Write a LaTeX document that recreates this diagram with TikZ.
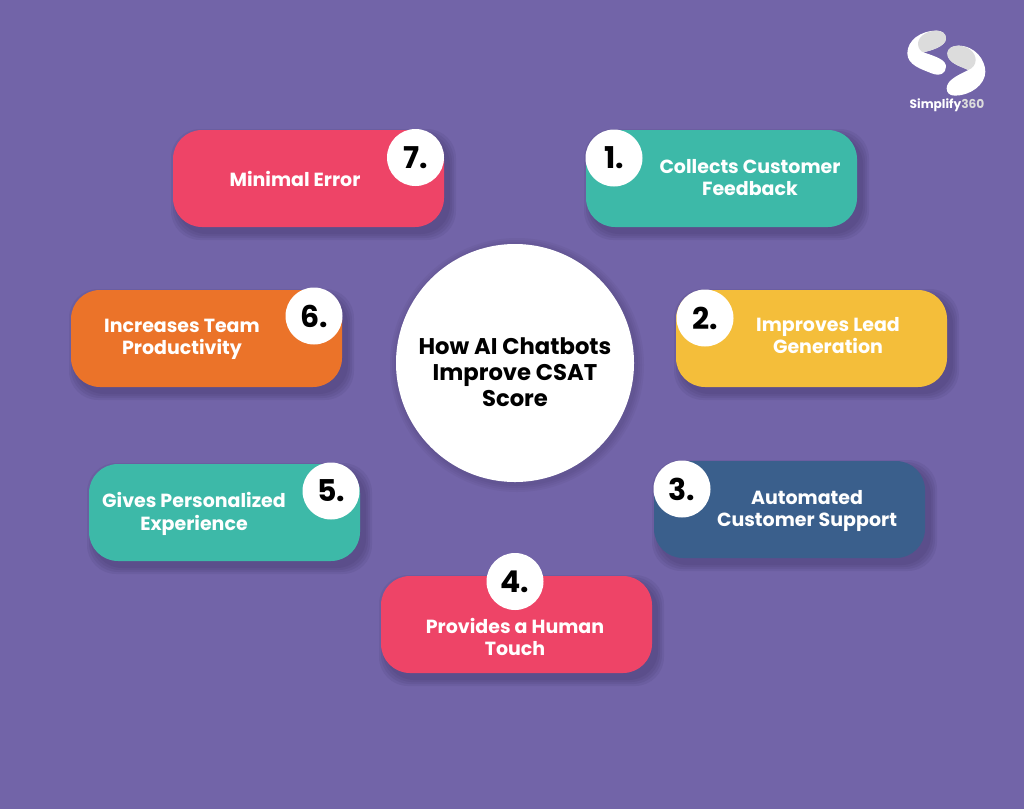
\documentclass[tikz,border=0pt]{standalone}
\usepackage{fontspec}
\setmainfont{Poppins}
\usetikzlibrary{calc}
\definecolor{bgpurple}{HTML}{7264A8}
\definecolor{cardpink}{HTML}{EE4467}
\definecolor{cardteal}{HTML}{3DB9A8}
\definecolor{cardyellow}{HTML}{F4BE3A}
\definecolor{cardblue}{HTML}{3A5F8C}
\definecolor{cardorange}{HTML}{EB7329}
\definecolor{shadowc}{HTML}{2E2650}
\definecolor{logogray}{HTML}{DCDCDC}
\tikzset{
  card/.style={rounded corners=29pt,minimum width=271pt,minimum height=97pt,inner sep=0pt,outer sep=0pt},
  cardlabel/.style={text=white,align=center,inner sep=0pt,font=\bfseries\fontsize{19}{22.5}\selectfont},
  badge/.style={circle,fill=white,minimum size=57pt,inner sep=0pt,text=black,font=\bfseries\fontsize{30}{30}\selectfont},
  hub/.style={circle,fill=white,minimum size=238pt,inner sep=0pt},
  hubtext/.style={align=center,inner sep=0pt,text=black,font=\bfseries\fontsize{22.7}{26}\selectfont},
}
\newcommand{\softcard}[2]{%
  \foreach \g in {7,5,3,1}{
    \fill[shadowc,opacity=0.09,rounded corners=29pt]
      (#1-135.5+5-\g,#2-48.5+6-\g) rectangle (#1+135.5+5+\g,#2+48.5+6+\g);
  }}
\begin{document}
\begin{tikzpicture}[x=1pt,y=-1pt]
\useasboundingbox (0,0) rectangle (1024,809);
\fill[bgpurple] (0,0) rectangle (1024,809);
% shadows
\softcard{308.5}{178.5}
\softcard{721.5}{178.5}
\softcard{811.5}{338.5}
\softcard{789.5}{509.5}
\softcard{516.5}{624.5}
\softcard{224.5}{512.5}
\softcard{206.5}{338.5}
\foreach \g in {8,6,4,2}{
  \fill[shadowc,opacity=0.06] (517,365) circle ({119+\g});
}
% cards
\node[card,fill=cardpink]   (card7) at (308.5,178.5) {};
\node[card,fill=cardteal]   (card1) at (721.5,178.5) {};
\node[card,fill=cardyellow] (card2) at (811.5,338.5) {};
\node[card,fill=cardblue]   (card3) at (789.5,509.5) {};
\node[card,fill=cardpink]   (card4) at (516.5,624.5) {};
\node[card,fill=cardteal]   (card5) at (224.5,512.5) {};
\node[card,fill=cardorange] (card6) at (206.5,338.5) {};
% labels
\node[cardlabel] (text7) at (295,178.5) {Minimal Error};
\node[cardlabel] (text1) at (750,177.5) {Collects Customer\\Feedback};
\node[cardlabel] (text2) at (828,335.5) {Improves Lead\\Generation};
\node[cardlabel] (text3) at (807,511) {Automated\\Customer Support};
\node[cardlabel] (text4) at (515,637) {Provides a Human\\Touch};
\node[cardlabel] (text5) at (194,514) {Gives Personalized\\Experience};
\node[cardlabel] (text6) at (182,339.5) {Increases Team\\Productivity};
% badges
\node[badge] (num7) at (415.5,157.5) {7.};
\node[badge] (num1) at (614,158) {1.};
\node[badge] (num2) at (705,318) {2.};
\node[badge] (num3) at (682,489) {3.};
\node[badge] (num4) at (515,581.5) {4.};
\node[badge] (num5) at (331,491) {5.};
\node[badge] (num6) at (314,316) {6.};
% hub
\node[hub] (hub) at (515,363) {};
\node[hubtext] (hubtext) at (515,372.5) {How AI Chatbots\\Improve CSAT\\Score};
% logo
\begin{scope}[shift={(880,10)},x=0.3333pt,y=-0.3333pt]
  \fill[white] (170,62) .. controls (120,62) and (82,92) .. (82,130)
    .. controls (82,165) and (125,178) .. (155,190)
    .. controls (180,200) and (198,190) .. (198,170)
    .. controls (198,150) and (170,140) .. (130,127)
    .. controls (150,122) and (198,110) .. (198,85)
    .. controls (198,70) and (185,62) .. (170,62) -- cycle;
  \fill[logogray] (170,62) .. controls (140,62) and (113,80) .. (114,103)
    .. controls (115,115) and (122,124) .. (130,127)
    .. controls (150,122) and (198,110) .. (198,85)
    .. controls (198,70) and (185,62) .. (170,62) -- cycle;
  \fill[white] (235,107) .. controls (285,107) and (316,150) .. (316,185)
    .. controls (316,225) and (270,257) .. (225,257)
    .. controls (208,257) and (200,248) .. (200,235)
    .. controls (200,210) and (235,195) .. (265,180)
    .. controls (245,170) and (202,160) .. (202,130)
    .. controls (202,115) and (218,107) .. (235,107) -- cycle;
  \fill[logogray] (235,107) .. controls (265,107) and (287,128) .. (287,150)
    .. controls (287,165) and (277,175) .. (265,180)
    .. controls (245,170) and (202,160) .. (202,130)
    .. controls (202,115) and (218,107) .. (235,107) -- cycle;
\end{scope}
\node[inner sep=0pt,font=\bfseries\fontsize{12.2}{14}\selectfont,text=white] (logotext) at (947,105) {Simplify\textcolor{logogray}{360}};
\end{tikzpicture}
\end{document}
